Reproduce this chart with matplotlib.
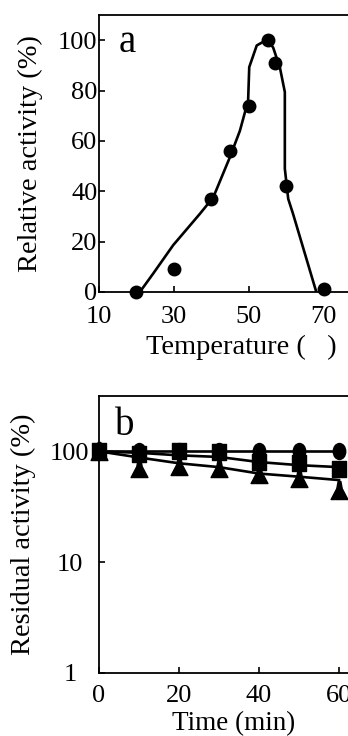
import numpy as np
import matplotlib
matplotlib.use('Agg')
import matplotlib.pyplot as plt
from matplotlib.path import Path
from matplotlib.transforms import Affine2D
from matplotlib.ticker import FixedLocator, NullLocator, FixedFormatter

# data, panel a: temperature profile
temp_pts = [20, 30, 40, 45, 50, 55, 57, 60, 70]
act_pts = [0, 9, 37, 56, 74, 100, 91, 42, 1]
# hand-drawn curve in panel a
curve_x = [20.9, 24.5, 29.8, 36.9, 40.5, 44.9, 47.6, 49.8, 50.1, 52.1, 54.0, 55.2, 56.5, 58.3, 59.6, 59.6, 60.5, 61.8, 68.0]
curve_y = [0, 7.4, 18.6, 31, 37.6, 53.4, 64, 76, 89.3, 97.9, 99.5, 100, 97, 89, 79.4, 49, 37, 31, 0]

# data, panel b: stability over time
time_pts = [0, 10, 20, 30, 40, 50, 60]
circ_vals = [100, 100, 100, 100, 100, 100, 100]
sq_vals = [100, 95, 100, 98, 80, 78, 69]
tri_vals = [100, 70, 73, 70, 63, 57, 45]
# fitted lines in panel b
line_top = [100, 100, 100, 100, 100, 100, 100]
line_mid = [100, 97, 92, 89, 80, 75, 72]
line_low = [100, 88, 78, 72, 63, 59, 55]

plt.rcParams['font.family'] = ['Liberation Serif', 'DejaVu Serif']

fig = plt.figure(figsize=(3.48, 7.36), dpi=100)

W, H = 348.0, 736.0
def box(left, top, width, bottom):
    return [left / W, 1 - bottom / H, width / W, (bottom - top) / H]

tick_fs = 19
label_fs = 20.5

# ---- panel a
ax1 = fig.add_axes(box(99, 15, 281, 292))
ax1.plot(curve_x, curve_y, color='black', lw=1.9, zorder=2)
ax1.plot(temp_pts, act_pts, 'o', color='black', ms=9, zorder=3, clip_on=False)
ax1.set_xlim(10, 85)
ax1.set_ylim(0, 110)
ax1.set_xticks([10, 30, 50, 70])
ax1.set_yticks([0, 20, 40, 60, 80, 100])
ax1.spines['right'].set_visible(False)
for s in ax1.spines.values():
    s.set_linewidth(1.3)
ax1.tick_params(direction='in', length=4, width=1.2, labelsize=tick_fs)
ax1.tick_params(axis='y', pad=1)
ax1.tick_params(axis='x', pad=10)
ax1.set_ylabel('Relative activity (%)', fontsize=label_fs)
ax1.yaxis.set_label_coords(-0.2, 0.5)
ax1.set_xlabel('Temperature (   )', fontsize=label_fs)
ax1.xaxis.set_label_coords(0.505, -0.155)
fig.text(119 / W, 1 - 52 / H, 'a', fontsize=28, va='baseline')

# ---- panel b
ellipse = Path.unit_circle().transformed(Affine2D().scale(0.78, 1.0))
rect = Path([(-0.78, -1), (0.78, -1), (0.78, 1), (-0.78, 1), (-0.78, -1)],
            [Path.MOVETO, Path.LINETO, Path.LINETO, Path.LINETO, Path.CLOSEPOLY])
tri = Path([(-0.93, -1), (0.93, -1), (0.3, 0.2), (0.15, 1), (-0.15, 1), (-0.3, 0.2), (-0.93, -1)],
           [Path.MOVETO, Path.LINETO, Path.LINETO, Path.LINETO, Path.LINETO, Path.LINETO, Path.CLOSEPOLY])

ax2 = fig.add_axes(box(99, 396, 280, 672.7))
ax2.set_yscale('log')
ax2.plot(time_pts, line_top, color='black', lw=1.9, zorder=2)
ax2.plot(time_pts, line_mid, color='black', lw=1.9, zorder=2)
ax2.plot(time_pts, line_low, color='black', lw=1.9, zorder=2)
ax2.plot(time_pts, tri_vals, linestyle='none', marker=tri, color='black', ms=13, zorder=3, clip_on=False)
ax2.plot(time_pts, sq_vals, linestyle='none', marker=rect, color='black', ms=12, zorder=4, clip_on=False)
ax2.plot(time_pts, circ_vals, linestyle='none', marker=ellipse, color='black', ms=11.5, zorder=3, clip_on=False)
ax2.set_xlim(0, 70)
ax2.set_ylim(1, 10 ** 2.5)
ax2.set_xticks([0, 20, 40, 60])
ax2.yaxis.set_major_locator(FixedLocator([1, 10, 100]))
ax2.yaxis.set_major_formatter(FixedFormatter(['1', '10', '100']))
ax2.yaxis.set_minor_locator(NullLocator())
ax2.spines['right'].set_visible(False)
for s in ax2.spines.values():
    s.set_linewidth(1.3)
ax2.tick_params(direction='in', length=4, width=1.2, labelsize=tick_fs)
ax2.tick_params(axis='y', pad=21)
ax2.tick_params(axis='x', pad=9)
for lbl in ax2.get_yticklabels():
    lbl.set_horizontalalignment('center')
ax2.set_ylabel('Residual activity (%)', fontsize=label_fs)
ax2.yaxis.set_label_coords(-0.225, 0.5)
ax2.set_xlabel('Time (min)', fontsize=19.5)
ax2.xaxis.set_label_coords(0.482, -0.138)
fig.text(115 / W, 1 - 435 / H, 'b', fontsize=28, va='baseline')

fig.savefig('out.png', dpi=100)
plt.close(fig)
